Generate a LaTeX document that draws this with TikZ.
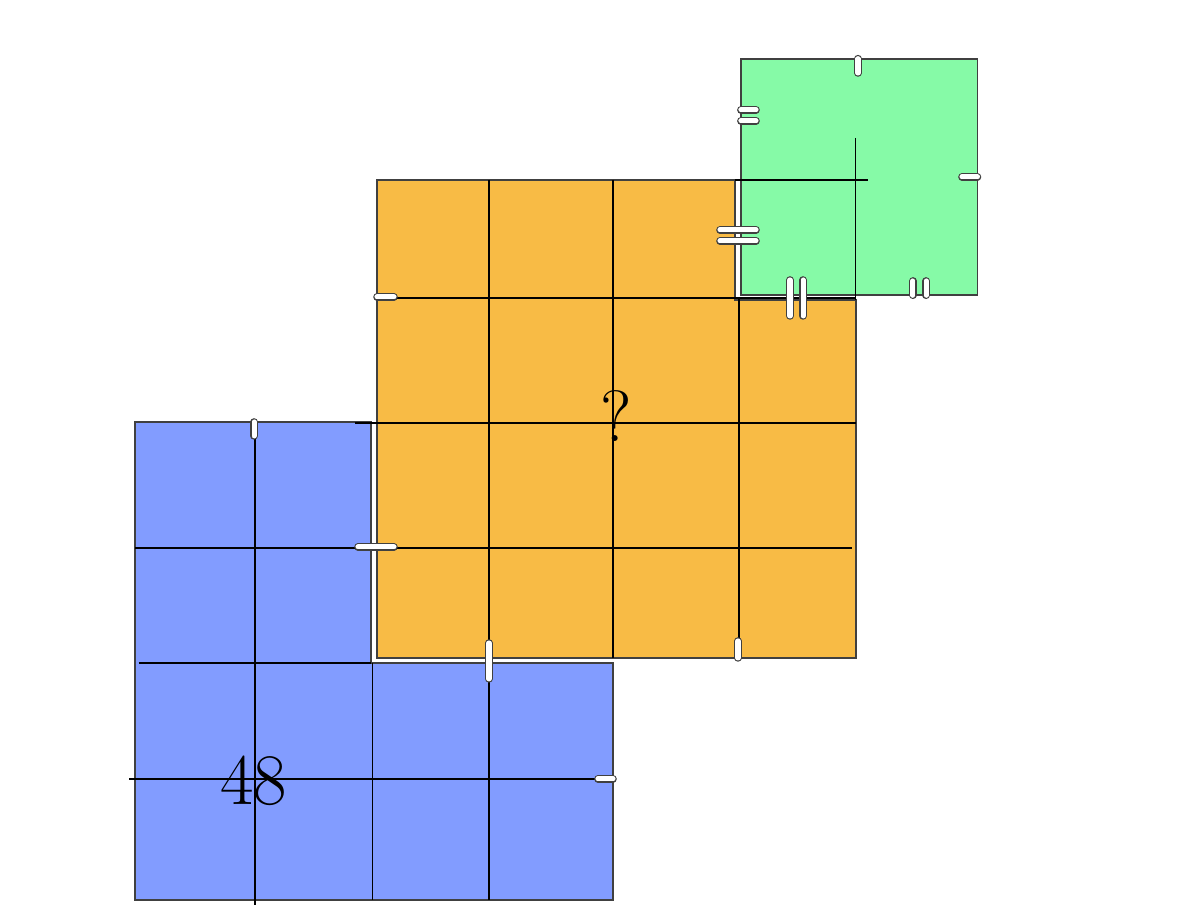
\documentclass[tikz,border=0pt]{standalone}
\usepackage{tikz}
\definecolor{sqblue}{RGB}{130,156,255}
\definecolor{sqorange}{RGB}{248,187,69}
\definecolor{sqgreen}{RGB}{134,250,167}
\tikzset{
  region/.style={draw=black!75, line width=0.45pt, line join=miter},
  gridline/.style={draw=black, line width=0.3pt},
  slot/.style={draw=black!75, double=white, double distance=1.2pt, line width=0.3pt, line cap=round},
  val/.style={font=\LARGE, inner sep=0pt}
}

\begin{document}
\begin{tikzpicture}
\useasboundingbox (-1.13,-0.192) rectangle (8.912,7.531);
% the three squares
\draw[region, fill=sqblue] (0,0) -- (4,0) -- (4,1.983) -- (1.975,1.983) -- (1.975,4) -- (0,4) -- cycle;
\draw[region, fill=sqorange] (2.025,2.025) -- (6.03,2.025) -- (6.03,5.02) -- (5.02,5.02) -- (5.02,6.025) -- (2.025,6.025) -- cycle;
\draw[region, fill=sqgreen] (5.07,5.06) rectangle (7.05,7.04);
% grid, blue
\draw[gridline] (0,2.946) -- (6.0,2.946);
\draw[gridline] (0.03,1.983) -- (1.975,1.983);
\draw[gridline] (-0.05,1.013) -- (4,1.013);
\draw[gridline] (1.004,4) -- (1.004,-0.04);
\draw[gridline] (1.99,1.983) -- (1.99,0);
\draw[gridline] (2.962,6.025) -- (2.962,0);
% grid, orange
\draw[gridline] (2.025,5.038) -- (6.03,5.038);
\draw[gridline] (1.84,3.99) -- (6.03,3.99);
\draw[gridline] (4,6.025) -- (4,2.025);
\draw[gridline] (5.054,5.038) -- (5.054,2.025);
% grid, green
\draw[gridline] (5.02,6.025) -- (6.134,6.025);
\draw[gridline] (6.03,6.377) -- (6.03,5.02);
% equal marks, green
\draw[slot] (6.05,7.04) -- (6.05,6.92);
\draw[slot] (5.07,6.611) -- (5.197,6.611);
\draw[slot] (5.07,6.519) -- (5.197,6.519);
\draw[slot] (6.92,6.05) -- (7.05,6.05);
\draw[slot] (6.51,5.18) -- (6.51,5.06);
\draw[slot] (6.62,5.18) -- (6.62,5.06);
\draw[slot] (4.895,5.607) -- (5.197,5.607);
\draw[slot] (4.895,5.515) -- (5.197,5.515);
\draw[slot] (5.481,5.188) -- (5.481,4.887);
\draw[slot] (5.59,5.188) -- (5.59,4.887);
% equal marks, blue
\draw[slot] (0.996,4) -- (0.996,3.883);
\draw[slot] (1.866,2.954) -- (2.167,2.954);
\draw[slot] (2.962,2.15) -- (2.962,1.85);
\draw[slot] (3.874,1.013) -- (4,1.013);
% equal marks, orange
\draw[slot] (2.025,5.046) -- (2.167,5.046);
\draw[slot] (5.046,2.167) -- (5.046,2.025);
% values
\node[val] (blueval) at (0.99,1.0) {48};
\node[val] (orangeval) at (4.03,4.05) {?};
\end{tikzpicture}
\end{document}
